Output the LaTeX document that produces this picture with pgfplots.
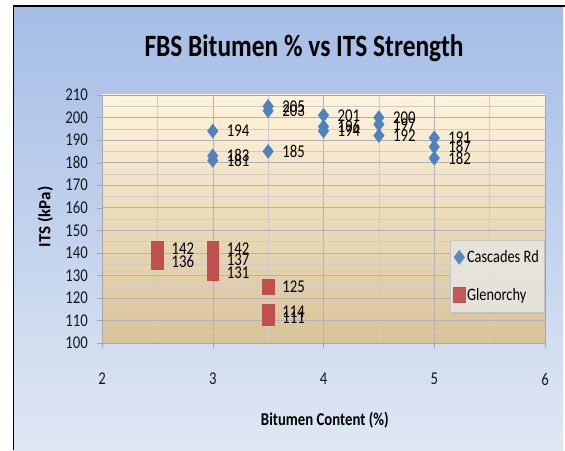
\documentclass[border=0pt]{standalone}
\usepackage{fontspec}
\setmainfont{Carlito}[FakeStretch=0.82]
\newfontfamily\ylabfont{Carlito}
\usepackage{pgfplots}
\pgfplotsset{compat=1.18}
\usetikzlibrary{shadows}
\definecolor{chartTop}{HTML}{A5BDE6}
\definecolor{chartBot}{HTML}{DFE7F3}
\definecolor{plotTop}{HTML}{FEF3DC}
\definecolor{plotBot}{HTML}{D8C399}
\definecolor{cascBlue}{HTML}{4F81BD}
\definecolor{glenRed}{HTML}{C0504D}
\definecolor{legFill}{HTML}{E8E6E0}
\definecolor{legDraw}{HTML}{C4C4C4}

\begin{document}
\begin{tikzpicture}
\useasboundingbox (0pt,0pt) rectangle (565pt,450pt);
\fill[white] (0pt,0pt) rectangle (565pt,450pt);
\shade[top color=chartTop, bottom color=chartBot] (13pt,0pt) rectangle (563pt,444pt);
\draw[black, line width=1.3pt] (13.5pt,0pt) -- (13.5pt,444pt) -- (565pt,444pt);
\node[font=\bfseries\fontsize{31}{36}\selectfont, text=black] at (304pt,402pt) {FBS Bitumen \% vs ITS Strength};

\begin{axis}[
  at={(102pt,107pt)}, anchor=south west,
  width=443pt, height=248pt, scale only axis,
  xmin=2, xmax=6, ymin=100, ymax=210,
  xtick={2,3,4,5,6}, ytick={100,110,...,210},
  minor x tick num=1, minor y tick num=1,
  grid=both,
  major grid style={gray!60, line width=0.5pt},
  minor grid style={gray!40, line width=0.5pt},
  axis line style={gray!70},
  axis background/.style={shade, top color=plotTop, bottom color=plotBot},
  xtick pos=bottom, ytick pos=left,
  tick align=outside, major tick length=5pt, minor tick length=0pt,
  tick style={gray!70},
  /pgf/number format/assume math mode=true,
  tick label style={font=\fontsize{18}{20}\selectfont, text=black!90},
  xticklabel style={anchor=center, yshift=-31pt},
  yticklabel style={anchor=east, inner sep=0pt, xshift=-9pt},
  xlabel={Bitumen Content (\%)},
  xlabel style={at={(axis description cs:0.503,-0.31)}, anchor=center, font=\bfseries\fontsize{18}{20}\selectfont},
  ylabel={ITS (kPa)},
  ylabel style={at={(axis description cs:-0.128,0.508)}, anchor=center, rotate=0, font=\ylabfont\bfseries\fontsize{17}{20}\selectfont},
  nodes near coords,
  every node near coord/.append style={anchor=west, inner sep=0pt, xshift=14pt, font=\fontsize{18}{20}\selectfont, text=black},
  legend style={at={(rel axis cs:0.998,0.125)}, anchor=south east,
    fill=legFill, fill opacity=0.92, text opacity=1, draw=legDraw,
    drop shadow={opacity=0.2, shadow xshift=2pt, shadow yshift=-2pt},
    font=\fontsize{17.5}{20}\selectfont, row sep=20pt, inner xsep=3pt, inner ysep=8pt},
  legend cell align=left,
]
\addplot[only marks, mark=diamond*, mark size=7pt, color=cascBlue] coordinates {
  (3,194) (3,183) (3,181)
  (3.5,205) (3.5,203) (3.5,185)
  (4,201) (4,196) (4,194)
  (4.5,200) (4.5,197) (4.5,192)
  (5,191) (5,187) (5,182)
};
\addlegendentry{Cascades Rd}
\addplot[only marks, mark=square*, mark size=7.3pt, mark options={xscale=0.8}, color=glenRed] coordinates {
  (2.5,142) (2.5,136)
  (3,142) (3,137) (3,131)
  (3.5,125) (3.5,114) (3.5,111)
};
\addlegendentry{Glenorchy}
\end{axis}
\end{tikzpicture}
\end{document}
